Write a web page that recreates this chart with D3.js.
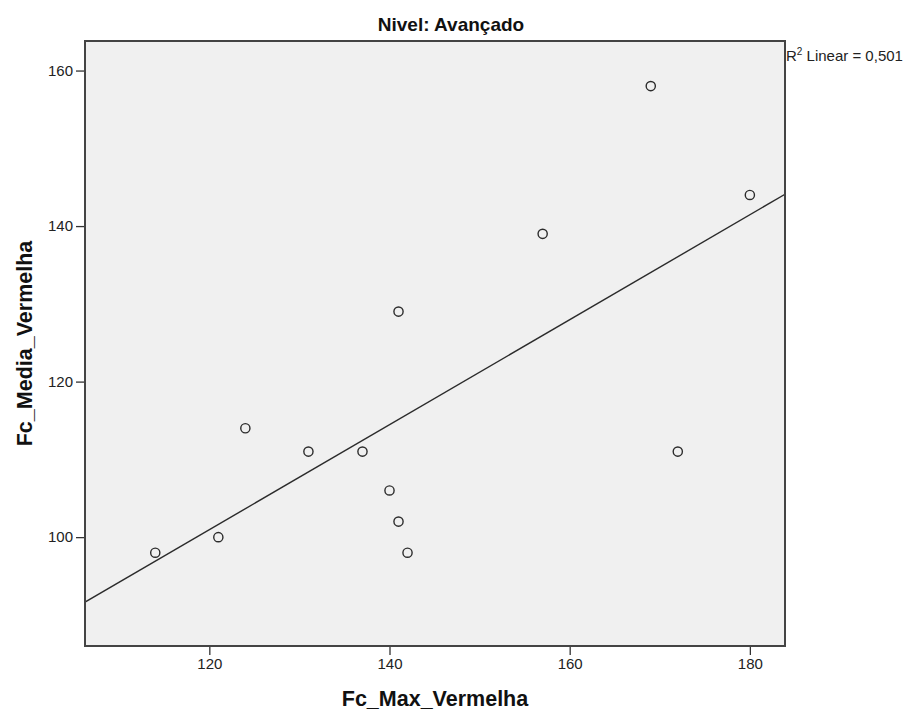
<!DOCTYPE html>
<html>
<head>
<meta charset="utf-8">
<script src="https://cdn.jsdelivr.net/npm/d3@7"></script>
<style>
  body { margin: 0; background: #fff; }
  svg { display: block; font-family: Arial, "Liberation Sans", sans-serif; }
</style>
</head>
<body>
<svg id="chart" width="914" height="718"></svg>
<script>
// Nivel: Avançado - scatter with linear fit
var fcMax   = [114, 121, 124, 131, 137, 140, 141, 142, 141, 157, 169, 172, 180];
var fcMedia = [ 98, 100, 114, 111, 111, 106, 102,  98, 129, 139, 158, 111, 144];
var xTicks = [120, 140, 160, 180];
var yTicks = [100, 120, 140, 160];
var xDomain = [106.2, 183.9];
var yDomain = [86.0, 163.8];

var svg = d3.select("#chart");

var margin = {left: 85, top: 41, right: 129, bottom: 72};
var width = 914 - margin.left - margin.right,
    height = 718 - margin.top - margin.bottom;

var x = d3.scaleLinear().domain(xDomain).range([0, width]);
var y = d3.scaleLinear().domain(yDomain).range([height, 0]);

var g = svg.append("g")
    .attr("transform", "translate(" + margin.left + "," + margin.top + ")");

g.append("rect")
    .attr("width", width)
    .attr("height", height)
    .attr("fill", "#f0f0f0");

g.append("clipPath").attr("id", "clip")
  .append("rect").attr("width", width).attr("height", height);

// linear fit
var n = fcMax.length,
    mx = d3.mean(fcMax),
    my = d3.mean(fcMedia);
var sxy = 0, sxx = 0, syy = 0;
for (var i = 0; i < n; i++) {
    sxy += (fcMax[i] - mx) * (fcMedia[i] - my);
    sxx += (fcMax[i] - mx) * (fcMax[i] - mx);
    syy += (fcMedia[i] - my) * (fcMedia[i] - my);
}
var slope = sxy / sxx,
    icpt = my - slope * mx,
    r2 = sxy * sxy / (sxx * syy);

g.append("line")
    .attr("clip-path", "url(#clip)")
    .attr("x1", x(xDomain[0])).attr("y1", y(icpt + slope * xDomain[0]))
    .attr("x2", x(xDomain[1])).attr("y2", y(icpt + slope * xDomain[1]))
    .attr("stroke", "#2b2b2b")
    .attr("stroke-width", 1.4);

g.selectAll("circle.pt")
    .data(fcMax.map(function(d, i) { return [d, fcMedia[i]]; }))
    .enter().append("circle")
    .attr("class", "pt")
    .attr("cx", function(d) { return x(d[0]); })
    .attr("cy", function(d) { return y(d[1]); })
    .attr("r", 4.6)
    .attr("fill", "none")
    .attr("stroke", "#2b2b2b")
    .attr("stroke-width", 1.4);

// axes
var xAxis = g.append("g")
    .attr("transform", "translate(0," + height + ")")
    .call(d3.axisBottom(x).tickValues(xTicks).tickSize(9).tickPadding(3));
var yAxis = g.append("g")
    .call(d3.axisLeft(y).tickValues(yTicks).tickSize(9).tickPadding(3));

[xAxis, yAxis].forEach(function(a) {
    a.select(".domain").remove();
    a.selectAll("line").attr("stroke", "#333").attr("stroke-width", 1.3);
    a.selectAll("text").attr("font-size", 15).attr("fill", "#222")
        .attr("font-family", "Arial, 'Liberation Sans', sans-serif");
});

// frame
g.append("rect")
    .attr("width", width)
    .attr("height", height)
    .attr("fill", "none")
    .attr("stroke", "#444")
    .attr("stroke-width", 2);

// titles
svg.append("text")
    .attr("x", 451).attr("y", 31)
    .attr("text-anchor", "middle")
    .attr("font-size", 19).attr("font-weight", "bold")
    .attr("fill", "#111")
    .text("Nivel: Avançado");

svg.append("text")
    .attr("x", margin.left + width / 2).attr("y", 706)
    .attr("text-anchor", "middle")
    .attr("font-size", 21.5).attr("font-weight", "bold")
    .attr("fill", "#111")
    .text("Fc_Max_Vermelha");

svg.append("text")
    .attr("transform", "translate(32," + (margin.top + height / 2) + ") rotate(-90)")
    .attr("text-anchor", "middle")
    .attr("font-size", 21.5).attr("font-weight", "bold")
    .attr("fill", "#111")
    .text("Fc_Media_Vermelha");

// R2 label
var r2Text = svg.append("text")
    .attr("x", margin.left + width + 1).attr("y", 61)
    .attr("font-size", 15).attr("fill", "#222");
r2Text.append("tspan").text("R");
r2Text.append("tspan").attr("font-size", 10).attr("dy", -6).text("2");
r2Text.append("tspan").attr("dy", 6).text(" Linear = " + r2.toFixed(3).replace(".", ","));
</script>
</body>
</html>
